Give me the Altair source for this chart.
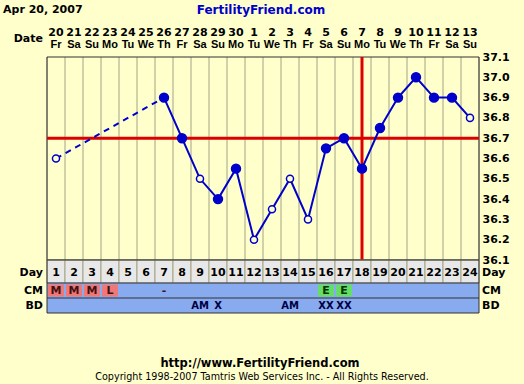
import altair as alt
import pandas as pd

# ---------------- data ----------------
CHART_DATE = "Apr 20, 2007"
SITE = "FertilityFriend.com"
FOOTER_URL = "http://www.FertilityFriend.com"
FOOTER_COPY = "Copyright 1998-2007 Tamtris Web Services Inc. - All Rights Reserved."

CYCLE_DAYS = list(range(1, 25))
DATES = ["20", "21", "22", "23", "24", "25", "26", "27", "28", "29", "30", "1",
         "2", "3", "4", "5", "6", "7", "8", "9", "10", "11", "12", "13"]
WEEKDAYS = ["Fr", "Sa", "Su", "Mo", "Tu", "We", "Th", "Fr", "Sa", "Su", "Mo", "Tu",
            "We", "Th", "Fr", "Sa", "Su", "Mo", "Tu", "We", "Th", "Fr", "Sa", "Su"]
TEMPS = [36.60, None, None, None, None, None, 36.90, 36.70, 36.50, 36.40, 36.55, 36.20,
         36.35, 36.50, 36.30, 36.65, 36.70, 36.55, 36.75, 36.90, 37.00, 36.90, 36.90, 36.80]
OPEN_MARKER = [True, False, False, False, False, False, False, False, True, False, False, True,
               True, True, True, False, False, False, False, False, False, False, False, True]
CM = ["M", "M", "M", "L", "", "", "-", "", "", "", "", "",
      "", "", "", "E", "E", "", "", "", "", "", "", ""]
BD = ["", "", "", "", "", "", "", "", "AM", "X", "", "",
      "", "AM", "", "XX", "XX", "", "", "", "", "", "", ""]
TEMP_TICKS = [36.1, 36.2, 36.3, 36.4, 36.5, 36.6, 36.7, 36.8, 36.9, 37.0, 37.1]
COVERLINE = 36.7
OVULATION_DAY = 18
TABLE_ROWS = ["Day", "CM", "BD"]

# ---------------- styles ----------------
BG = "#FFFFCC"
GRID = "#A4A486"
BORDER = "#333333"
BLUE = "#0000CC"
RED = "#DD0000"
DAY_ROW = "#E8E8E8"
TABLE_BLUE = "#88AAEE"
CM_FILL = {"M": "#EE7777", "L": "#EE7777", "E": "#66DD66"}
FONT = "DejaVu Sans"
NARROW = "Liberation Sans"

PLOT_TOP, PLOT_BOTTOM = 57, 260
TABLE_EDGES = [260, 283, 298, 313]
HEADER_LINES = [33, 45]

# ---------------- frames ----------------
days = pd.DataFrame({"day": CYCLE_DAYS, "date": DATES, "wd": WEEKDAYS, "temp": TEMPS,
                     "open": OPEN_MARKER, "cm": CM, "bd": BD})
x_lo, x_hi = CYCLE_DAYS[0] - 0.5, CYCLE_DAYS[-1] + 0.5
t_lo, t_hi = TEMP_TICKS[0], TEMP_TICKS[-1]
bounds = pd.DataFrame({"b": [d - 0.5 for d in CYCLE_DAYS] + [x_hi], "lo": t_lo, "hi": t_hi})
ticks_df = pd.DataFrame({"t": TEMP_TICKS})

solid_rows, dash_rows = [], []
prev = None
run = 0
for d, t in zip(CYCLE_DAYS, TEMPS):
    if t is None:
        continue
    if prev is not None and d - prev[0] > 1:
        run += 1
        dash_rows += [{"seg": run, "day": prev[0], "temp": prev[1]},
                      {"seg": run, "day": d, "temp": t}]
    solid_rows.append({"seg": run, "day": d, "temp": t})
    prev = (d, t)
solid_df = pd.DataFrame(solid_rows)
dash_df = pd.DataFrame(dash_rows)

rows_df = pd.DataFrame({"row": TABLE_ROWS, "i": list(range(len(TABLE_ROWS)))})
rows_df["i1"] = rows_df["i"] + 1
rows_df["yc"] = rows_df["i"] + 0.5
rows_df["xl"] = x_lo
rows_df["xh"] = x_hi

# ---------------- scales ----------------
XS = alt.Scale(domain=[x_lo, x_hi], nice=False, zero=False)
TS = alt.Scale(domain=[t_lo, t_hi], range=[PLOT_BOTTOM, PLOT_TOP], nice=False, zero=False)
RS = alt.Scale(domain=list(range(len(TABLE_ROWS) + 1)), range=TABLE_EDGES, nice=False, zero=False)
HS = alt.Scale(domain=[0, 1], range=HEADER_LINES, nice=False, zero=False)


def X(f):
    return alt.X(f, type="quantitative", scale=XS, axis=None)


def YT(f, axis=None):
    return alt.Y(f, type="quantitative", scale=TS, axis=axis)


def YR(f):
    return alt.Y(f, type="quantitative", scale=RS, axis=None)


def YH(f):
    return alt.Y(f, type="quantitative", scale=HS, axis=None)


txt = dict(font=FONT, fontSize=11, fontWeight="bold", baseline="middle")

AX_LEFT = alt.Axis(orient="left", values=TEMP_TICKS, format=".1f", grid=True, gridColor=GRID,
                   gridOpacity=1, gridWidth=1, domain=False, ticks=False, labelFont=FONT,
                   labelFontSize=11, labelFontWeight="bold", labelColor="#000000",
                   labelPadding=4, title=None)
AX_RIGHT = alt.Axis(orient="right", values=TEMP_TICKS, format=".1f", grid=False,
                    domain=False, ticks=False, labelFont=FONT, labelFontSize=11,
                    labelFontWeight="bold", labelColor="#000000", labelPadding=3, title=None)

# ---------------- temperature plot ----------------
vgrid = alt.Chart(bounds).mark_rule(color=GRID, strokeWidth=1).encode(
    x=X("b"), y=YT("lo", AX_LEFT), y2="hi:Q")
frame = pd.DataFrame({"x0": [x_lo], "x1": [x_hi], "y0": [t_lo], "y1": [t_hi]})
border = alt.Chart(frame).mark_rect(fillOpacity=0, stroke=BORDER, strokeWidth=1).encode(
    x=X("x0"), x2="x1:Q", y=YT("y0"), y2="y1:Q")
cover = alt.Chart(pd.DataFrame({"t": [COVERLINE]})).mark_rule(color=RED, strokeWidth=3).encode(
    y=YT("t"))
ovu = alt.Chart(pd.DataFrame({"d": [OVULATION_DAY], "lo": [t_lo], "hi": [t_hi]})).mark_rule(
    color=RED, strokeWidth=3).encode(x=X("d"), y=YT("hi"), y2="lo:Q")
dashed = alt.Chart(dash_df).mark_line(color=BLUE, strokeWidth=2, strokeDash=[6, 5]).encode(
    x=X("day"), y=YT("temp"), detail="seg:N")
solid = alt.Chart(solid_df).mark_line(color=BLUE, strokeWidth=2).encode(
    x=X("day"), y=YT("temp"), detail="seg:N")
pts = alt.Chart(days).transform_filter("isValid(datum.temp)").mark_point(
    shape="circle", filled=True, stroke=BLUE, strokeWidth=1.5, opacity=1).encode(
    x=X("day"), y=YT("temp"),
    fill=alt.condition("datum.open", alt.value(BG), alt.value(BLUE)),
    size=alt.condition("datum.open", alt.value(50), alt.value(80)))

temp_main = alt.layer(vgrid, border, cover, ovu, dashed, solid, pts)
temp_right = alt.Chart(ticks_df).mark_rule(opacity=0).encode(y=YT("t", AX_RIGHT))

# ---------------- table rows ----------------
iday = TABLE_ROWS.index("Day")
icm = TABLE_ROWS.index("CM")
ibd = TABLE_ROWS.index("BD")

day_cells = alt.Chart(days).transform_calculate(
    x0="datum.day - 0.5", x1="datum.day + 0.5", y0=str(iday), y1=str(iday + 1)
).mark_rect(fill=DAY_ROW, stroke=GRID, strokeWidth=1).encode(
    x=X("x0"), x2="x1:Q", y=YR("y0"), y2="y1:Q")
blue_rows = alt.Chart(rows_df[rows_df["row"] != "Day"]).mark_rect(fill=TABLE_BLUE).encode(
    x=X("xl"), x2="xh:Q", y=YR("i"), y2="i1:Q")
cm_df = days[days["cm"].isin(list(CM_FILL))]
cm_cells = alt.Chart(cm_df).transform_calculate(
    x0="datum.day - 0.5", x1="datum.day + 0.5", y0=str(icm), y1=str(icm + 1)
).mark_rect(xOffset=1, x2Offset=-1, yOffset=1.5, y2Offset=-1.5).encode(
    x=X("x0"), x2="x1:Q", y=YR("y0"), y2="y1:Q",
    fill=alt.Fill("cm:N", scale=alt.Scale(domain=list(CM_FILL), range=list(CM_FILL.values())),
                  legend=None))
row_lines = alt.Chart(pd.DataFrame({"y": list(range(len(TABLE_ROWS) + 1))})).mark_rule(
    color=BORDER, strokeWidth=1).encode(y=YR("y"))
side_lines = alt.Chart(pd.DataFrame({"x": [x_lo, x_hi], "y0": [0, 0],
                                     "y1": [len(TABLE_ROWS)] * 2})).mark_rule(
    color=BORDER, strokeWidth=1).encode(x=X("x"), y=YR("y0"), y2="y1:Q")

day_txt = alt.Chart(days).transform_calculate(yc=str(iday + 0.5)).mark_text(
    color="#000000", dy=1.5, **txt).encode(x=X("day"), y=YR("yc"), text="day:N")
cm_txt = alt.Chart(days[days["cm"] != ""]).transform_calculate(yc=str(icm + 0.5)).mark_text(
    **txt).encode(x=X("day"), y=YR("yc"), text="cm:N",
                  color=alt.condition("datum.cm == 'E'", alt.value("#003300"),
                                      alt.value("#441111")))
bd_txt = alt.Chart(days[days["bd"] != ""]).transform_calculate(yc=str(ibd + 0.5)).mark_text(
    color="#000044", font=FONT, fontSize=10, fontWeight="bold", baseline="middle").encode(
    x=X("day"), y=YR("yc"), text="bd:N")
lab_day = rows_df[rows_df["row"] == "Day"]
lab_rest = rows_df[rows_df["row"] != "Day"]
lab_left = alt.layer(
    alt.Chart(lab_day).mark_text(align="right", dx=-4, dy=1.5, color="#000000", **txt).encode(
        x=X("xl"), y=YR("yc"), text="row:N"),
    alt.Chart(lab_rest).mark_text(align="right", dx=-4, color="#000000", **txt).encode(
        x=X("xl"), y=YR("yc"), text="row:N"),
)
lab_right = alt.layer(
    alt.Chart(lab_day).mark_text(align="left", dx=3, dy=1.5, color="#000000", **txt).encode(
        x=X("xh"), y=YR("yc"), text="row:N"),
    alt.Chart(lab_rest).mark_text(align="left", dx=3, color="#000000", **txt).encode(
        x=X("xh"), y=YR("yc"), text="row:N"),
)

table = alt.layer(day_cells, blue_rows, cm_cells, row_lines, side_lines,
                  day_txt, cm_txt, bd_txt, lab_left, lab_right)

# ---------------- header (calendar dates) ----------------
date_txt = alt.Chart(days).transform_calculate(ln="0").mark_text(color="#000000", **txt).encode(
    x=X("day"), y=YH("ln"), text="date:N")
wd_txt = alt.Chart(days).transform_calculate(ln="1").mark_text(
    color="#000000", font=NARROW, fontSize=11, fontWeight="bold", baseline="middle").encode(
    x=X("day"), y=YH("ln"), text="wd:N")
header = alt.layer(date_txt, wd_txt)


# ---------------- page annotations ----------------
def note(text, x, y, align="center", size=11, weight="bold", color="#000000"):
    return alt.Chart(pd.DataFrame({"t": [text]})).mark_text(
        align=align, baseline="middle", font=FONT, fontSize=size, fontWeight=weight,
        color=color).encode(x=alt.value(x), y=alt.value(y), text="t:N")


annots = alt.layer(
    note(CHART_DATE, -44, 10, align="left"),
    note(SITE, 214, 10, size=12, color=BLUE),
    note("Date", -4, 39, align="right"),
    note(FOOTER_URL, 213, 364, size=11.5),
    note(FOOTER_COPY, 215, 377, size=9.6, weight="normal"),
)

chart = alt.layer(temp_main, temp_right, table, header, annots).resolve_scale(
    y="independent"
).properties(
    width=432, height=384,
    padding={"left": 47, "top": 0, "right": 45, "bottom": 0},
    autosize=alt.AutoSizeParams(type="none"),
    background=BG,
).configure_view(stroke=None)

chart.save("out.html", embed_options={"renderer": "svg", "actions": False})
